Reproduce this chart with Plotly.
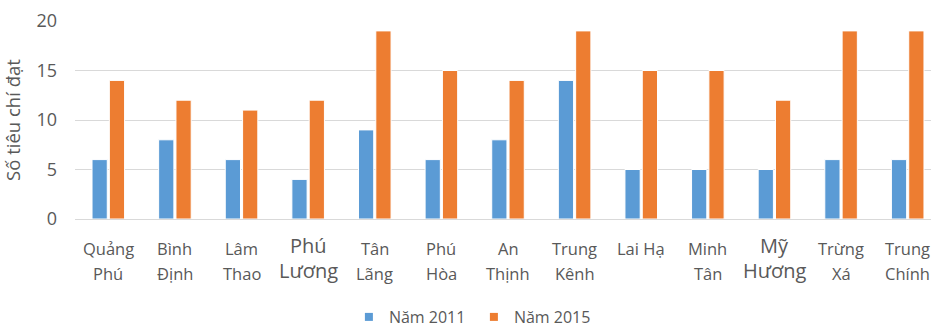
import plotly.graph_objects as go

categories = ["Quảng Phú", "Bình Định", "Lâm Thao", "Phú Lương", "Tân Lãng", "Phú Hòa",
              "An Thịnh", "Trung Kênh", "Lai Hạ", "Minh Tân", "Mỹ Hương", "Trừng Xá",
              "Trung Chính"]
label_line1 = ["Quảng", "Bình", "Lâm", "Phú", "Tân", "Phú", "An", "Trung", "Lai Hạ",
               "Minh", "Mỹ", "Trừng", "Trung"]
label_line2 = ["Phú", "Định", "Thao", "Lương", "Lãng", "Hòa", "Thịnh", "Kênh", "",
               "Tân", "Hương", "Xá", "Chính"]
large_labels = ["Phú Lương", "Mỹ Hương"]
values_2011 = [6, 8, 6, 4, 9, 6, 8, 14, 5, 5, 5, 6, 6]
values_2015 = [14, 12, 11, 12, 19, 15, 14, 19, 15, 15, 12, 19, 19]
y_ticks = [0, 5, 10, 15, 20]

FONT = "Open Sans, DejaVu Sans, sans-serif"
GRAY = "#595959"
BLUE = "#5B9BD5"
ORANGE = "#ED7D31"
PLOT_H = 198

fig = go.Figure()
fig.add_trace(go.Bar(x=categories, y=values_2011, name="Năm 2011", showlegend=False,
                     marker=dict(color=BLUE, line=dict(color="white", width=1))))
fig.add_trace(go.Bar(x=categories, y=values_2015, name="Năm 2015", showlegend=False,
                     marker=dict(color=ORANGE, line=dict(color="white", width=1))))
# legend entries with square swatches
fig.add_trace(go.Scatter(x=[None], y=[None], mode="markers", name="Năm 2011",
                         marker=dict(symbol="square", size=8, color=BLUE)))
fig.add_trace(go.Scatter(x=[None], y=[None], mode="markers", name="Năm 2015",
                         marker=dict(symbol="square", size=8, color=ORANGE)))

for cat, l1, l2 in zip(categories, label_line1, label_line2):
    big = cat in large_labels
    size = 20 if big else 16.5
    off1, off2 = (27, 51) if big else (29, 54)
    for txt, off in ((l1, off1), (l2, off2)):
        if not txt:
            continue
        fig.add_annotation(x=cat, xref="x", y=-off / PLOT_H, yref="paper",
                           yanchor="middle", xanchor="center", showarrow=False, text=txt,
                           font=dict(family=FONT, size=size, color=GRAY))

fig.update_layout(
    width=931, height=329,
    margin=dict(l=75, r=0, t=21, b=110, autoexpand=False),
    paper_bgcolor="white", plot_bgcolor="white",
    barmode="group", bargap=0.48, bargroupgap=0.12,
    font=dict(family=FONT, color=GRAY, size=16),
    legend=dict(orientation="h", x=0.466, xanchor="center", xref="paper",
                y=(329 - 317) / 329, yref="container", yanchor="middle",
                font=dict(size=16, color=GRAY), itemwidth=30, tracegroupgap=0,
                entrywidth=80, entrywidthmode="pixels"),
    xaxis=dict(type="category", range=[-0.5, 12.35], showgrid=False, showline=False,
               ticks="", showticklabels=False, automargin=False),
    yaxis=dict(range=[0, 20], tickvals=y_ticks, showgrid=True, gridcolor="#d9d9d9",
               gridwidth=1, zeroline=True, zerolinecolor="#d9d9d9", zerolinewidth=1,
               showline=False, ticks="", tickfont=dict(size=18, color=GRAY),
               ticklabelstandoff=17, automargin=False,
               title=dict(text="Số tiêu chí đạt", font=dict(size=18.5, color=GRAY),
                          standoff=10)),
)

fig.write_html("out.html")
